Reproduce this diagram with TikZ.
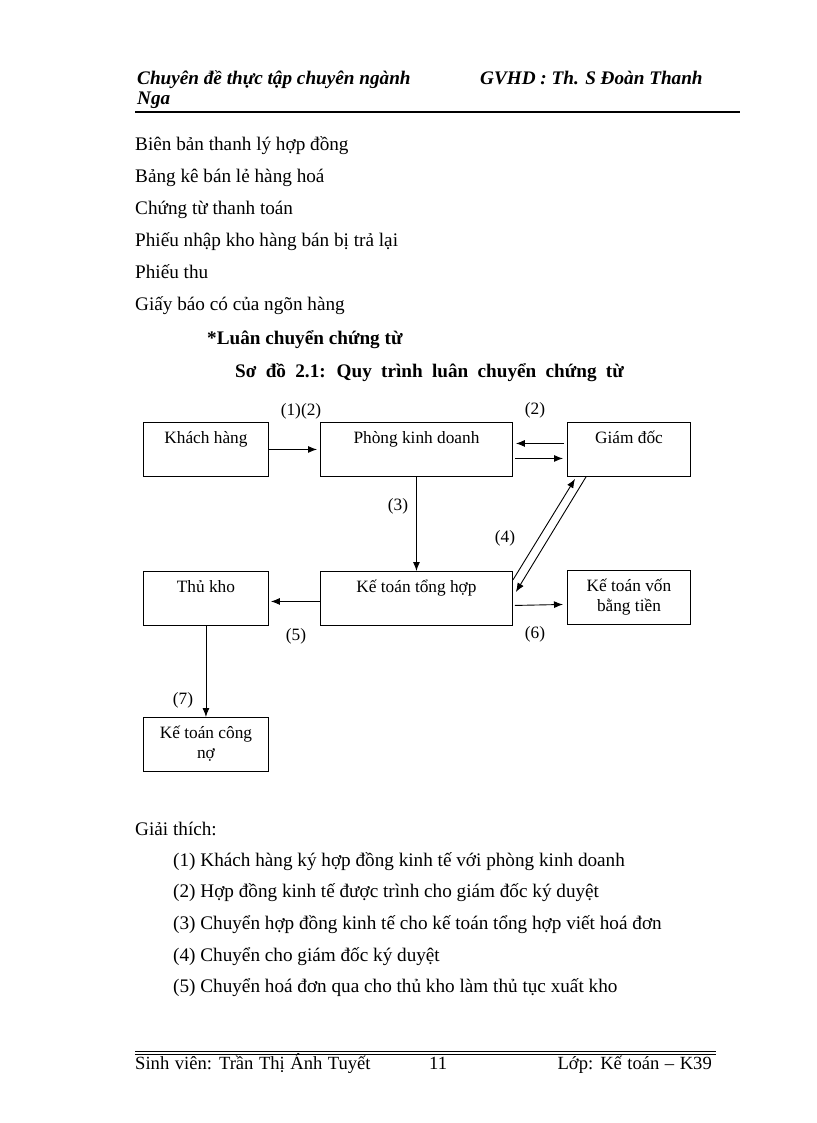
\documentclass[tikz,border=0pt]{standalone}
\usepackage{fontspec}
\setmainfont{Liberation Serif}
\usetikzlibrary{arrows.meta, positioning}

\newcommand{\bodyfs}{\fontsize{19.2pt}{23pt}\selectfont}
\newcommand{\diagfs}{\fontsize{17.3pt}{20.4pt}\selectfont}
\newcommand{\footfs}{\fontsize{18.6pt}{22pt}\selectfont\spaceskip=5.5pt\relax}
\newcommand{\capfs}{\bodyfs\bfseries\spaceskip=9.3pt\relax}
\newcommand{\twoline}[2]{\begin{tabular}[t]{@{}c@{}}#1\\#2\end{tabular}}

\tikzset{
  box/.style={rectangle, draw, line width=0.9pt, minimum width=125pt, inner sep=0pt, text height=21pt, text depth=33pt, anchor=north west, font=\diagfs},
  txt/.style={anchor=base west, inner sep=0pt, font=\bodyfs},
  head/.style={txt, font=\bodyfs\bfseries\itshape},
  num/.style={inner sep=0pt, font=\diagfs},
  link/.style={line width=0.9pt, -{Latex[length=9pt, width=7pt]}}
}

\begin{document}
\begin{tikzpicture}[x=1pt, y=-1pt]
\useasboundingbox[fill=white] (0,0) rectangle (816,1123);

% header
\node[head] (chuyende) at (137,85) {Chuyên đề thực tập chuyên ngành};
\node[head] (gvhd) at (480,85) {GVHD : Th. S Đoàn Thanh};
\node[head] (nga) at (137,105) {Nga};
\draw[line width=2pt] (135,112) -- (740,112);

% chung tu
\foreach \t [count=\i] in {Biên bản thanh lý hợp đồng, Bảng kê bán lẻ hàng hoá, Chứng từ thanh toán, Phiếu nhập kho hàng bán bị trả lại, Phiếu thu, Giấy báo có của ngõn hàng}
  \node[txt] (doc\i) at (135,{151+31.8*(\i-1)}) {\t};
\node[txt, font=\bodyfs\bfseries] (luan) at (207,344) {*Luân chuyển chứng từ};
\node[txt, font=\capfs] (sodo) at (235,377) {Sơ đồ 2.1: Quy trình luân chuyển chứng từ};

% so do
\node[box] (kh) at (143,422) {Khách hàng};
\node[box, minimum width=192pt] (pkd) at (320,422) {Phòng kinh doanh};
\node[box, minimum width=123pt] (gd) at (567,422) {Giám đốc};
\node[box, minimum width=192pt] (kt) at (320,571) {Kế toán tổng hợp};
\node[box] (tk) at (143,571) {Thủ kho};
\node[box, minimum width=123pt] (ktv) at (567,570) {\twoline{Kế toán vốn}{bằng tiền}};
\node[box] (ktcn) at (143,717) {\twoline{Kế toán công}{nợ}};

\draw[link] (kh.east) -- ([xshift=-3pt]pkd.west);
\draw[link] ([xshift=-3pt, yshift=6pt]gd.west) -- ([xshift=3pt, yshift=6pt]pkd.east);
\draw[link] ([xshift=2pt, yshift=-9pt]pkd.east) -- ([xshift=-4pt, yshift=-9pt]gd.west);
\draw[link] (pkd.south) -- (kt.north);
\draw[link] ([yshift=-9pt]kt.north east) -- ([xshift=8pt, yshift=-2pt]gd.south west);
\draw[link] ([xshift=19pt]gd.south west) -- ([xshift=3pt, yshift=-21pt]kt.north east);
\draw[link] ([yshift=-3pt]kt.west) -- ([xshift=2pt, yshift=-3pt]tk.east);
\draw[link] ([xshift=2pt, yshift=-7pt]kt.east) -- ([xshift=-4pt, yshift=-7pt]ktv.west);
\draw[link] (tk.south) -- (ktcn.north);

\node[num] (n12) at (301,411) {(1)(2)};
\node[num] (n2) at (535,410) {(2)};
\node[num] (n3) at (398,506) {(3)};
\node[num] (n4) at (505,538) {(4)};
\node[num] (n5) at (296,636) {(5)};
\node[num] (n6) at (535,634) {(6)};
\node[num] (n7) at (183,700) {(7)};

% giai thich
\node[txt] (giai) at (135,835) {Giải thích:};
\foreach \t [count=\i] in {Khách hàng ký hợp đồng kinh tế với phòng kinh doanh, Hợp đồng kinh tế được trình cho giám đốc ký duyệt, Chuyển hợp đồng kinh tế cho kế toán tổng hợp viết hoá đơn, Chuyển cho giám đốc ký duyệt, Chuyển hoá đơn qua cho thủ kho làm thủ tục xuất kho}
  \node[txt] (gt\i) at (173,{866+31.7*(\i-1)}) {(\i) \t};

% footer
\draw[line width=0.7pt] (135,1051.5) -- (716,1051.5);
\draw[line width=1.5pt] (135,1054.5) -- (716,1054.5);
\node[txt, font=\footfs] (sv) at (135,1069) {Sinh viên: Trần Thị Ánh Tuyết};
\node[txt, font=\footfs] (trang) at (429,1069) {11};
\node[txt, font=\footfs, anchor=base east] (lop) at (712,1069) {Lớp: Kế toán -- K39};
\end{tikzpicture}
\end{document}
